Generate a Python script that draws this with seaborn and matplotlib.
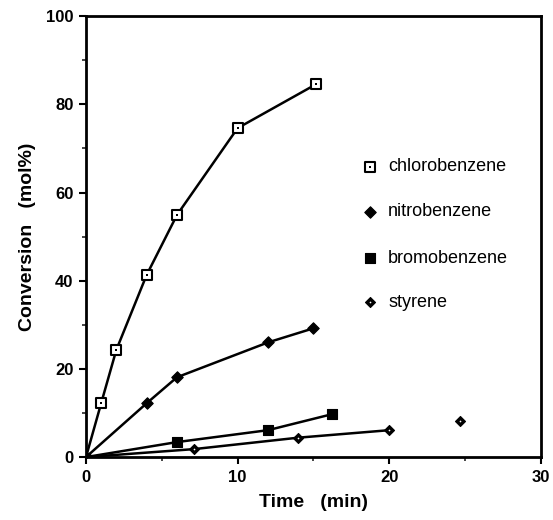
import numpy as np
import pandas as pd
import matplotlib
matplotlib.use("Agg")
import matplotlib.pyplot as plt
from matplotlib.ticker import MultipleLocator
import seaborn as sns

# data
chloro_t = [0, 1, 2, 4, 6, 10, 15.2]
chloro_c = [0, 12.2, 24.3, 41.3, 54.9, 74.6, 84.6]
nitro_t = [0, 4, 6, 12, 15]
nitro_c = [0, 12.2, 18.1, 26.0, 29.2]
bromo_t = [0, 6, 12, 16.2]
bromo_c = [0, 3.4, 6.1, 9.7]
styrene_t = [0, 7.1, 14, 20]
styrene_c = [0, 1.8, 4.4, 6.1]
styrene_extra_t = [24.7]
styrene_extra_c = [8.2]

series = ["chlorobenzene", "nitrobenzene", "bromobenzene", "styrene"]

sns.set_style("ticks")
plt.rcParams['font.family'] = ['Liberation Sans', 'DejaVu Sans']

fig = plt.figure(figsize=(5.53, 5.2), dpi=100)
ax = fig.add_axes([0.1555, 0.121, 0.8225, 0.848])

df = pd.concat([
    pd.DataFrame({"t": chloro_t, "c": chloro_c, "s": series[0]}),
    pd.DataFrame({"t": nitro_t, "c": nitro_c, "s": series[1]}),
    pd.DataFrame({"t": bromo_t, "c": bromo_c, "s": series[2]}),
    pd.DataFrame({"t": styrene_t, "c": styrene_c, "s": series[3]}),
])

# curves
for name in series:
    d = df[df.s == name]
    sns.lineplot(data=d, x="t", y="c", color="black", lw=1.8, ax=ax,
                 legend=False, sort=True, estimator=None)

marker_style = {
    "chlorobenzene": dict(marker="s", s=42, facecolor="white", edgecolor="black", linewidth=1.5),
    "nitrobenzene": dict(marker="D", s=34, facecolor="black", edgecolor="black", linewidth=0.8),
    "bromobenzene": dict(marker="s", s=45, facecolor="black", edgecolor="black", linewidth=0.8),
    "styrene": dict(marker="D", s=26, facecolor="black", edgecolor="black", linewidth=0.8),
}

for name in series:
    d = df[(df.s == name) & (df.t > 0)]
    sns.scatterplot(x=d.t, y=d.c, ax=ax, zorder=5, **marker_style[name])
ax.scatter([0], [0], marker="s", s=35, color="black", zorder=6)
sns.scatterplot(x=styrene_extra_t, y=styrene_extra_c, ax=ax, zorder=5,
                **marker_style["styrene"])

# centre dots
d = df[(df.s == "chlorobenzene") & (df.t > 0)]
ax.scatter(d.t, d.c, marker="s", s=3, color="black", linewidths=0, zorder=6)
d = df[(df.s == "styrene") & (df.t > 0)]
ax.scatter(list(d.t) + styrene_extra_t, list(d.c) + styrene_extra_c,
           marker="o", s=1.5, color="white", linewidths=0, zorder=6)

# legend
leg_y = [0.658, 0.556, 0.451, 0.351]
for name, y in zip(series, leg_y):
    st = marker_style[name]
    ax.scatter([0.624], [y], transform=ax.transAxes, zorder=6, clip_on=False, **st)
    ax.text(0.664, y, name, transform=ax.transAxes, va="center", ha="left",
            fontsize=13, color="black")
ax.scatter([0.624], [leg_y[0]], transform=ax.transAxes, marker="s", s=3,
           color="black", linewidths=0, zorder=7)
ax.scatter([0.624], [leg_y[3]], transform=ax.transAxes, marker="o", s=1.5,
           color="white", linewidths=0, zorder=7)

ax.set_xlim(0, 30)
ax.set_ylim(0, 100)
ax.xaxis.set_major_locator(MultipleLocator(10))
ax.xaxis.set_minor_locator(MultipleLocator(5))
ax.yaxis.set_major_locator(MultipleLocator(20))
ax.yaxis.set_minor_locator(MultipleLocator(10))
ax.tick_params(which="major", direction="out", length=5, width=1.5, labelsize=12,
               colors="black", pad=4)
ax.tick_params(which="minor", direction="out", length=3, width=1.2)
for lab in ax.get_xticklabels() + ax.get_yticklabels():
    lab.set_fontweight("bold")
for sp in ax.spines.values():
    sp.set_linewidth(2)
    sp.set_color("black")

ax.set_xlabel("Time   (min)", fontsize=14, fontweight="bold", labelpad=7, color="black")
ax.set_ylabel("Conversion   (mol%)", fontsize=14, fontweight="bold", labelpad=7, color="black")

fig.savefig("out.png", dpi=100)
